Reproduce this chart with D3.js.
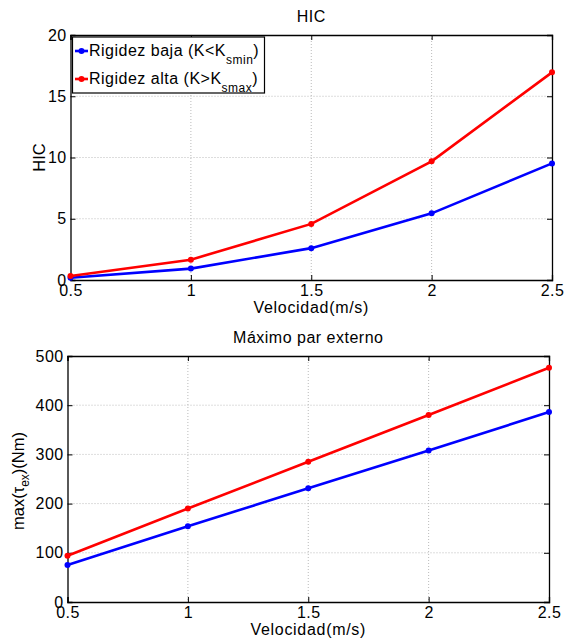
<!DOCTYPE html>
<html><head><meta charset="utf-8">
<script src="https://cdn.jsdelivr.net/npm/d3@7"></script>
<style>
body{margin:0;background:#fff;}
text{font-family:"Liberation Sans",Arial,sans-serif;fill:#000;}
</style></head>
<body><svg id="c" width="565" height="640"></svg>
<script>
const velocities = [0.5, 1, 1.5, 2, 2.5];
const hicBaja = [0.19, 0.93, 2.6, 5.44, 9.52];
const hicAlta = [0.32, 1.66, 4.58, 9.69, 16.95];
const parBaja = [75, 154, 231, 308, 386];
const parAlta = [94, 190, 285, 380, 476];
const xTicks = [0.5, 1, 1.5, 2, 2.5];
const hicTicks = [0, 5, 10, 15, 20];
const parTicks = [0, 100, 200, 300, 400, 500];
const seriesNames = ["Rigidez baja (K<K", "Rigidez alta (K>K"];
const seriesSubs = ["smin", "smax"];
const colors = ["#0000ff", "#ff0000"];

const svg = d3.select("#c");

function panel(o){
  const g = svg.append("g");
  const x = d3.scaleLinear().domain([0.5,2.5]).range([o.left,o.right]);
  const y = d3.scaleLinear().domain(o.ydom).range([o.bottom,o.top]);
  g.selectAll(".gx").data(xTicks.slice(1,-1)).enter().append("line")
    .attr("x1",d=>x(d)).attr("x2",d=>x(d)).attr("y1",o.top).attr("y2",o.bottom)
    .attr("stroke","#bbb").attr("stroke-width",1).attr("stroke-dasharray","1,2");
  g.selectAll(".gy").data(o.yticks.slice(1,-1)).enter().append("line")
    .attr("y1",d=>y(d)).attr("y2",d=>y(d)).attr("x1",o.left).attr("x2",o.right)
    .attr("stroke","#bbb").attr("stroke-width",1).attr("stroke-dasharray","1,2");
  const ax = [
    [d3.axisBottom(x).tickValues(xTicks).tickSize(-5).tickPadding(5).tickFormat(d3.format("")), `translate(0,${o.bottom})`],
    [d3.axisTop(x).tickValues(xTicks).tickSize(-5).tickFormat(""), `translate(0,${o.top})`],
    [d3.axisLeft(y).tickValues(o.yticks).tickSize(-5).tickPadding(4).tickFormat(d3.format("")), `translate(${o.left},0)`],
    [d3.axisRight(y).tickValues(o.yticks).tickSize(-5).tickFormat(""), `translate(${o.right},0)`]
  ];
  ax.forEach(([a,t])=>{
    const ag = g.append("g").attr("transform",t).call(a);
    ag.select(".domain").attr("stroke","#000").attr("stroke-width",1.3);
    ag.selectAll(".tick line").attr("stroke","#000");
    ag.selectAll("text").style("font-size","16px").style("letter-spacing","0.4px")
      .attr("font-family","Liberation Sans, Arial, sans-serif");
  });
  o.series.forEach((s,i)=>{
    const pts = velocities.map((v,j)=>[v,s[j]]);
    g.append("path").datum(pts)
      .attr("d",d3.line().x(d=>x(d[0])).y(d=>y(d[1])))
      .attr("fill","none").attr("stroke",colors[i]).attr("stroke-width",2.6);
    g.selectAll(null).data(pts).enter().append("circle")
      .attr("cx",d=>x(d[0])).attr("cy",d=>y(d[1])).attr("r",3).attr("fill",colors[i]);
  });
  g.append("text").attr("x",(o.left+o.right)/2).attr("y",o.top-13.3)
    .attr("text-anchor","middle").style("font-size","16px").style("letter-spacing","0.5px").text(o.title);
  g.append("text").attr("x",(o.left+o.right)/2).attr("y",o.bottom+33)
    .attr("text-anchor","middle").style("font-size","16px").style("letter-spacing","0.7px").text("Velocidad(m/s)");
  return {g,x,y};
}

const p1 = panel({left:70.5,right:552,top:35,bottom:280,ydom:[0,20],yticks:hicTicks,
  series:[hicBaja,hicAlta],title:"HIC"});
p1.g.append("text").attr("transform","translate(44.5,157.5) rotate(-90)")
  .attr("text-anchor","middle").style("font-size","16.5px").text("HIC");

const p2 = panel({left:67.5,right:549,top:356,bottom:602,ydom:[0,500],yticks:parTicks,
  series:[parBaja,parAlta],title:"Máximo par externo"});
const yl = p2.g.append("text").attr("transform","translate(24,481) rotate(-90)")
  .attr("text-anchor","middle").style("font-size","16.5px");
yl.append("tspan").text("max(τ");
yl.append("tspan").attr("dy",5).style("font-size","12px").text("ex");
yl.append("tspan").attr("dy",-5).text(")(Nm)");

const lg = svg.append("g");
lg.append("rect").attr("x",72.5).attr("y",37).attr("width",192).attr("height",56)
  .attr("fill","#fff").attr("stroke","#000").attr("stroke-width",1.2);
seriesNames.forEach((n,i)=>{
  const yy = 51 + i*28;
  lg.append("line").attr("x1",75).attr("x2",88).attr("y1",yy).attr("y2",yy)
    .attr("stroke",colors[i]).attr("stroke-width",2.6);
  lg.append("circle").attr("cx",81.5).attr("cy",yy).attr("r",3).attr("fill",colors[i]);
  const t = lg.append("text").attr("x",89).attr("y",yy+5).style("font-size","16px").style("letter-spacing","0.5px");
  t.append("tspan").text(n);
  t.append("tspan").attr("dy",8).style("font-size","12px").text(seriesSubs[i]);
  t.append("tspan").attr("dy",-8).text(")");
});
</script></body></html>
